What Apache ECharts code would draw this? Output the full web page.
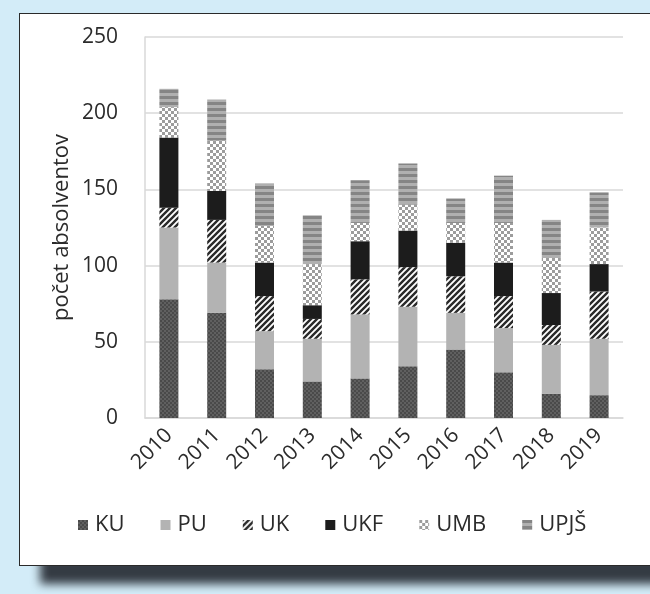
<!DOCTYPE html>
<html>
<head>
<meta charset="utf-8">
<script src="https://cdn.jsdelivr.net/npm/echarts@6/dist/echarts.min.js"></script>
<style>
  html, body { margin: 0; padding: 0; }
  body { width: 650px; height: 594px; background: #d3ecf8; position: relative; overflow: hidden; }
  #shadow { position: absolute; left: 40px; top: 556px; width: 640px; height: 28px; background: #343b43; filter: blur(5px); }
  #panel { position: absolute; left: 19px; top: 13px; width: 640px; height: 551px; background: #fff; border: 1.5px solid #2a2a2a; border-right: none; }
  #chart { position: absolute; left: 0; top: 0; width: 650px; height: 594px; }
</style>
</head>
<body>
<div id="shadow"></div>
<div id="panel"></div>
<div id="chart"></div>
<script>
// roky a pocty absolventov podla skol
var years = ['2010', '2011', '2012', '2013', '2014', '2015', '2016', '2017', '2018', '2019'];
var KU   = [78, 69, 32, 24, 26, 34, 45, 30, 16, 15];
var PU   = [47, 33, 25, 28, 42, 39, 24, 29, 32, 37];
var UK   = [13, 28, 23, 13, 23, 26, 24, 21, 13, 31];
var UKF  = [46, 19, 22,  9, 25, 24, 22, 22, 21, 18];
var UMB  = [20, 33, 24, 27, 12, 17, 13, 26, 23, 24];
var UPJS = [12, 27, 28, 32, 28, 27, 16, 31, 25, 23];
var yTicks = [0, 50, 100, 150, 200, 250];

// vzory vyplne (ako v Exceli)
function pattern(w, h, draw) {
  var c = document.createElement('canvas');
  c.width = w; c.height = h;
  draw(c.getContext('2d'));
  return { image: c, repeat: 'repeat' };
}
var patKU = pattern(4, 4, function (g) {
  g.fillStyle = '#606060'; g.fillRect(0, 0, 4, 4);
  g.fillStyle = '#4a4a4a'; g.fillRect(0, 0, 2, 2); g.fillRect(2, 2, 2, 2);
});
var patUK = pattern(6, 6, function (g) {
  g.fillStyle = '#fff'; g.fillRect(0, 0, 6, 6);
  g.strokeStyle = '#2a2a2a'; g.lineWidth = 2.4;
  g.beginPath();
  g.moveTo(-1, 7); g.lineTo(7, -1);
  g.moveTo(-4, 4); g.lineTo(4, -4);
  g.moveTo(2, 10); g.lineTo(10, 2);
  g.stroke();
});
var patUMB = pattern(6, 6, function (g) {
  g.fillStyle = '#fff'; g.fillRect(0, 0, 6, 6);
  g.fillStyle = '#9c9c9c'; g.fillRect(0, 0, 3, 3); g.fillRect(3, 3, 3, 3);
});
var patUPJS = pattern(6, 6, function (g) {
  g.fillStyle = '#b0b0b0'; g.fillRect(0, 0, 6, 6);
  g.fillStyle = '#858585'; g.fillRect(0, 0, 6, 3);
});

var font = '"Open Sans", "Noto Sans", sans-serif';
var txt = '#2b2b2b';
var myChart = echarts.init(document.getElementById('chart'), null, { renderer: 'canvas' });

function bar(name, data, color) {
  return {
    name: name, type: 'bar', stack: 'spolu', data: data, barWidth: 19,
    itemStyle: { color: color }
  };
}

var option = {
  backgroundColor: 'transparent',
  animation: false,
  textStyle: { fontFamily: font },
  grid: { left: 145, right: 27, top: 37, bottom: 176 },
  legend: {
    left: 73, top: 509, itemWidth: 10, itemHeight: 10, itemGap: 36,
    icon: 'rect',
    textStyle: { fontSize: 22, color: txt, fontFamily: font, padding: [0, 0, 0, 2] },
    data: ['KU', 'PU', 'UK', 'UKF', 'UMB', 'UPJŠ']
  },
  xAxis: {
    type: 'category', data: years,
    axisLine: { lineStyle: { color: '#d9d9d9', width: 1.5 } },
    axisTick: { show: false },
    axisLabel: { rotate: 45, margin: 14, fontSize: 21, color: txt, fontFamily: font }
  },
  yAxis: {
    type: 'value', min: yTicks[0], max: yTicks[yTicks.length - 1], interval: 50,
    name: 'počet absolventov', nameLocation: 'middle', nameGap: 72, nameMoveOverlap: false,
    nameTextStyle: { fontSize: 22, color: txt, fontFamily: font },
    axisLine: { show: true, lineStyle: { color: '#d9d9d9', width: 1.5 } },
    splitLine: { lineStyle: { color: '#d9d9d9', width: 1.5 } },
    axisLabel: { margin: 27, fontSize: 21, color: txt, fontFamily: font }
  },
  series: [
    bar('KU', KU, patKU),
    bar('PU', PU, '#b3b3b3'),
    bar('UK', UK, patUK),
    bar('UKF', UKF, '#1c1c1c'),
    bar('UMB', UMB, patUMB),
    bar('UPJŠ', UPJS, patUPJS)
  ]
};
myChart.setOption(option);
</script>
</body>
</html>
